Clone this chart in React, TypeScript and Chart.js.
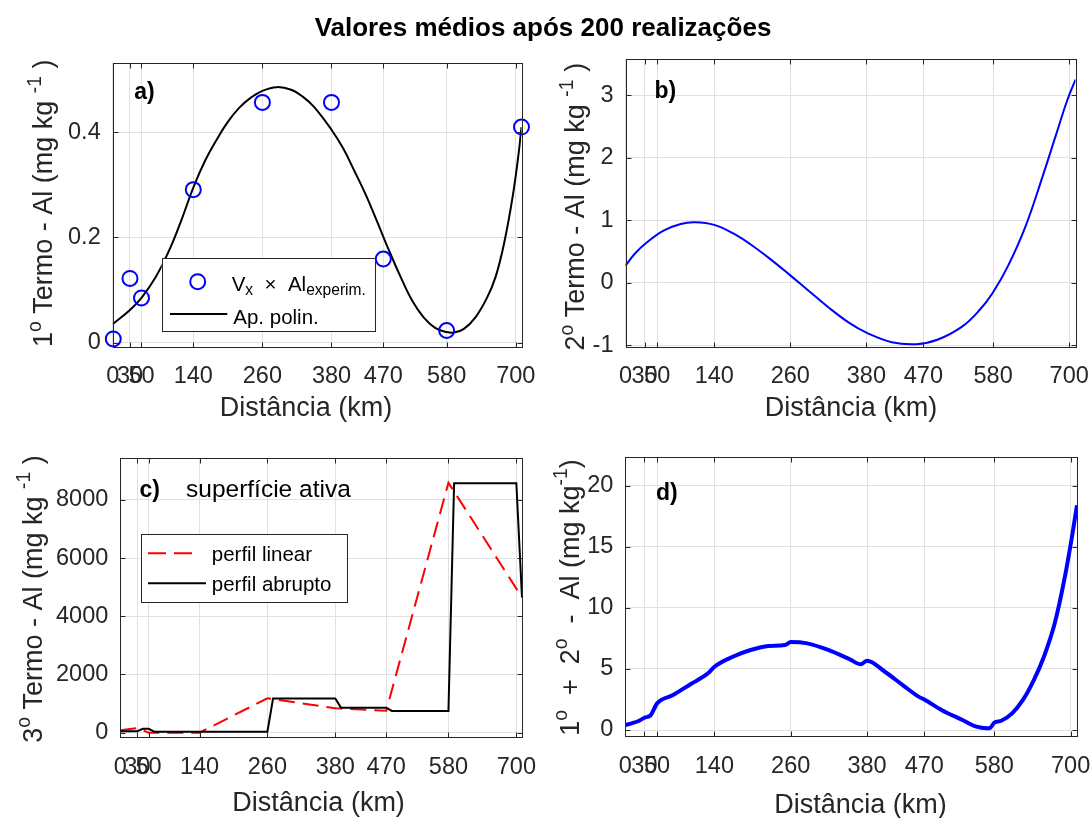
import React, { useEffect, useRef } from 'react';
import { Chart, registerables } from 'chart.js';

Chart.register(...registerables);

const FONT = "'Liberation Sans', Arial, Helvetica, sans-serif";
const INK = '#262626';
const GRID = '#e1e1e1';
const TICK_LEN = 5;

// ---------- shared x axis ----------
const xTickValues = [0, 30, 50, 140, 260, 380, 470, 580, 700];
const xMin = 0;
const xMax = 710;

// ---------- a) experimental values and polynomial fit ----------
const expDist = [1, 30, 50, 140, 260, 380, 470, 580, 710];
const expAl = [0.007, 0.122, 0.085, 0.291, 0.457, 0.457, 0.159, 0.023, 0.41];
const polDist = [0, 30, 50, 75, 100, 120, 140, 160, 180, 200, 220, 240, 260, 285, 310, 330, 350, 380, 400, 420, 440, 460, 480, 500, 520, 540, 560, 580, 593, 610, 630, 650, 665, 680, 695, 705, 710];
const polAl = [0.035, 0.062, 0.085, 0.125, 0.18, 0.235, 0.295, 0.345, 0.385, 0.42, 0.447, 0.466, 0.479, 0.486, 0.481, 0.468, 0.448, 0.405, 0.37, 0.326, 0.28, 0.228, 0.175, 0.125, 0.08, 0.048, 0.028, 0.02, 0.019, 0.026, 0.048, 0.085, 0.125, 0.19, 0.28, 0.36, 0.41];
const aYTicks = [0, 0.2, 0.4];

// ---------- b) second term ----------
const bDist = [0, 15, 32, 60, 87, 110, 140, 170, 197, 226, 260, 287, 320, 353, 381, 420, 459, 492, 531, 559, 579, 603, 631, 658, 680, 697, 710];
const bVal = [0.277, 0.47, 0.634, 0.836, 0.943, 0.97, 0.927, 0.79, 0.618, 0.4, 0.12, -0.11, -0.39, -0.64, -0.8, -0.948, -0.98, -0.91, -0.7, -0.43, -0.165, 0.26, 0.9, 1.7, 2.39, 2.92, 3.25];
const bYTicks = [-1, 0, 1, 2, 3];

// ---------- c) third term ----------
const linDist = [0, 30, 50, 140, 260, 380, 470, 580, 710];
const linVal = [80, 160, 0, 0, 1180, 840, 750, 8590, 4650];
const abrDist = [0, 30, 40, 50, 60, 260, 270, 380, 390, 470, 480, 580, 590, 700, 710];
const abrVal = [50, 50, 130, 130, 35, 35, 1175, 1175, 860, 860, 745, 745, 8570, 8570, 4650];
const cYTicks = [0, 2000, 4000, 6000, 8000];

// ---------- d) first + second ----------
const dDist = [0, 10, 20, 30, 40, 50, 75, 103, 130, 140, 169, 197, 225, 251, 260, 286, 319, 353, 370, 380, 408, 436, 461, 470, 497, 530, 552, 568, 573, 580, 591, 608, 625, 641, 658, 675, 691, 702, 710];
const dVal = [0.41, 0.55, 0.72, 1.0, 1.22, 2.18, 2.86, 3.77, 4.64, 5.18, 6.0, 6.55, 6.88, 6.96, 7.2, 7.09, 6.55, 5.78, 5.38, 5.67, 4.77, 3.68, 2.73, 2.5, 1.64, 0.82, 0.27, 0.14, 0.16, 0.6, 0.76, 1.36, 2.46, 3.96, 6.0, 8.73, 12.55, 15.8, 18.4];
const dYTicks = [0, 5, 10, 15, 20];

const pts = (xs: number[], ys: number[]) => xs.map((x, i) => ({ x, y: ys[i] }));

type Seg = { t: string; s?: 'sup' | 'sub' };
type Rect = { l: number; t: number; r: number; b: number };
type LegendItem = {
  kind: 'marker' | 'line';
  color: string;
  dash?: number[];
  x1: number;
  x2: number;
  y: number;
  textX: number;
  textY: number;
  segs: Seg[];
};
type PanelSpec = {
  id: string;
  box: { x: number; y: number; w: number; h: number };
  area: Rect;
  xPad: number;
  yMin: number;
  yMax: number;
  yTicks: number[];
  yFmt: (v: number) => string;
  datasets: any[];
  yTitle: Seg[];
  yTitleX: number;
  yTitleY: number;
  xTitleX: number;
  xTitleY: number;
  tag: string;
  tagX: number;
  tagY: number;
  extra?: { t: string; x: number; y: number };
  legend?: { box: Rect; items: LegendItem[] };
};

function segFont(s: Seg, size: number, ratio: number) {
  const sz = s.s ? size * ratio : size;
  return `${sz}px ${FONT}`;
}

function richWidth(ctx: CanvasRenderingContext2D, segs: Seg[], size: number, ratio: number) {
  let w = 0;
  for (const s of segs) {
    ctx.font = segFont(s, size, ratio);
    w += ctx.measureText(s.t).width;
  }
  return w;
}

function drawRich(
  ctx: CanvasRenderingContext2D,
  segs: Seg[],
  x: number,
  y: number,
  size: number,
  align: 'left' | 'center',
  ratio = 0.72
) {
  const total = richWidth(ctx, segs, size, ratio);
  let cx = align === 'center' ? x - total / 2 : x;
  ctx.textAlign = 'left';
  ctx.textBaseline = 'alphabetic';
  for (const s of segs) {
    ctx.font = segFont(s, size, ratio);
    const dy = s.s === 'sup' ? -size * 0.42 : s.s === 'sub' ? size * 0.22 : 0;
    ctx.fillText(s.t, cx, y + dy);
    cx += ctx.measureText(s.t).width;
  }
}

function makeDecor(spec: PanelSpec) {
  return {
    id: 'decor_' + spec.id,
    afterDraw(chart: any) {
      const ctx: CanvasRenderingContext2D = chart.ctx;
      const ox = spec.box.x;
      const oy = spec.box.y;
      const { left, right, top, bottom } = chart.chartArea;
      const xs = chart.scales.x;
      const ys = chart.scales.y;
      ctx.save();
      ctx.fillStyle = INK;
      ctx.strokeStyle = INK;
      ctx.lineWidth = 1;
      ctx.setLineDash([]);
      // box
      const L = Math.round(left) + 0.5;
      const R = Math.round(right) + 0.5;
      const T = Math.round(top) + 0.5;
      const B = Math.round(bottom) + 0.5;
      ctx.strokeRect(L, T, R - L, B - T);
      // inward tick marks on all four sides
      ctx.beginPath();
      for (const v of xTickValues) {
        const px = Math.round(xs.getPixelForValue(v)) + 0.5;
        ctx.moveTo(px, B);
        ctx.lineTo(px, B - TICK_LEN);
        ctx.moveTo(px, T);
        ctx.lineTo(px, T + TICK_LEN);
      }
      for (const v of spec.yTicks) {
        const py = Math.round(ys.getPixelForValue(v)) + 0.5;
        ctx.moveTo(L, py);
        ctx.lineTo(L + TICK_LEN, py);
        ctx.moveTo(R, py);
        ctx.lineTo(R - TICK_LEN, py);
      }
      ctx.stroke();

      // legend
      if (spec.legend) {
        const lb = spec.legend.box;
        ctx.fillStyle = '#ffffff';
        ctx.fillRect(lb.l - ox, lb.t - oy, lb.r - lb.l, lb.b - lb.t);
        ctx.strokeStyle = INK;
        ctx.lineWidth = 1;
        ctx.strokeRect(Math.round(lb.l - ox) + 0.5, Math.round(lb.t - oy) + 0.5, Math.round(lb.r - lb.l), Math.round(lb.b - lb.t));
        for (const it of spec.legend.items) {
          ctx.save();
          ctx.strokeStyle = it.color;
          ctx.lineWidth = 2;
          if (it.kind === 'marker') {
            ctx.beginPath();
            ctx.arc(it.x1 - ox, it.y - oy, 7.5, 0, Math.PI * 2);
            ctx.stroke();
          } else {
            ctx.setLineDash(it.dash || []);
            ctx.beginPath();
            ctx.moveTo(it.x1 - ox, it.y - oy);
            ctx.lineTo(it.x2 - ox, it.y - oy);
            ctx.stroke();
          }
          ctx.restore();
          ctx.fillStyle = '#000000';
          drawRich(ctx, it.segs, it.textX - ox, it.textY - oy, 20.5, 'left', 0.76);
        }
      }

      // panel tag
      ctx.fillStyle = '#000000';
      ctx.font = `bold 23px ${FONT}`;
      ctx.textAlign = 'left';
      ctx.textBaseline = 'alphabetic';
      ctx.fillText(spec.tag, spec.tagX - ox, spec.tagY - oy);
      if (spec.extra) {
        ctx.font = `24.5px ${FONT}`;
        ctx.fillText(spec.extra.t, spec.extra.x - ox, spec.extra.y - oy);
      }

      // axis titles
      ctx.fillStyle = INK;
      drawRich(ctx, [{ t: 'Distância (km)' }], spec.xTitleX - ox, spec.xTitleY - oy, 27, 'center');
      ctx.save();
      ctx.translate(spec.yTitleX - ox, spec.yTitleY - oy);
      ctx.rotate(-Math.PI / 2);
      drawRich(ctx, spec.yTitle, 0, 0, 27, 'center');
      ctx.restore();

      ctx.restore();
    },
  };
}

const zeroPadding = (s: any) => {
  s.paddingLeft = 0;
  s.paddingRight = 0;
  s.paddingTop = 0;
  s.paddingBottom = 0;
};

function buildConfig(spec: PanelSpec): any {
  const areaL = spec.area.l - spec.box.x;
  const areaR = spec.area.r - spec.box.x;
  const areaT = spec.area.t - spec.box.y;
  const areaB = spec.area.b - spec.box.y;
  const tickFont = { family: FONT, size: 23.5 };
  return {
    type: 'scatter',
    data: { datasets: spec.datasets },
    options: {
      responsive: false,
      maintainAspectRatio: false,
      animation: false,
      events: [],
      layout: { padding: { left: 0, top: areaT, right: spec.box.w - areaR, bottom: 0 } },
      plugins: {
        legend: { display: false },
        tooltip: { enabled: false },
        title: { display: false },
      },
      scales: {
        x: {
          type: 'linear',
          position: 'bottom',
          min: xMin,
          max: xMax,
          afterBuildTicks: (s: any) => {
            s.ticks = xTickValues.map((v) => ({ value: v }));
          },
          afterFit: (s: any) => {
            s.height = spec.box.h - areaB;
            zeroPadding(s);
          },
          ticks: {
            autoSkip: false,
            maxRotation: 0,
            minRotation: 0,
            padding: spec.xPad,
            color: INK,
            font: tickFont,
            callback: (v: number) => String(v),
          },
          grid: { color: GRID, lineWidth: 1, drawTicks: false },
          border: { display: false },
        },
        y: {
          type: 'linear',
          position: 'left',
          min: spec.yMin,
          max: spec.yMax,
          afterBuildTicks: (s: any) => {
            s.ticks = spec.yTicks.map((v) => ({ value: v }));
          },
          afterFit: (s: any) => {
            s.width = areaL;
            zeroPadding(s);
          },
          ticks: {
            autoSkip: false,
            padding: 12,
            color: INK,
            font: tickFont,
            callback: (v: number) => spec.yFmt(v),
          },
          grid: { color: GRID, lineWidth: 1, drawTicks: false },
          border: { display: false },
        },
      },
    },
    plugins: [makeDecor(spec)],
  };
}

const lineDs = (data: any[], color: string, width: number, extra: any = {}) => ({
  data,
  showLine: true,
  borderColor: color,
  backgroundColor: color,
  borderWidth: width,
  pointRadius: 0,
  fill: false,
  ...extra,
});

const termTitle = (n: string): Seg[] => [
  { t: n },
  { t: 'o', s: 'sup' },
  { t: ' Termo - Al (mg kg ' },
  { t: '-1', s: 'sup' },
  { t: ' )' },
];

const specs: PanelSpec[] = [
  {
    id: 'a',
    box: { x: 0, y: 0, w: 546, h: 430 },
    area: { l: 112.7, t: 62.7, r: 521.5, b: 347.3 },
    xPad: 15,
    yMin: -0.009,
    yMax: 0.5325,
    yTicks: aYTicks,
    yFmt: (v) => (v === 0 ? '0' : v.toFixed(1)),
    datasets: [
      {
        data: pts(expDist, expAl),
        showLine: false,
        pointStyle: 'circle',
        pointRadius: 7.5,
        pointBorderWidth: 2,
        pointBorderColor: '#0000ff',
        pointBackgroundColor: 'rgba(0,0,0,0)',
        clip: false,
      },
      lineDs(pts(polDist, polAl), '#000000', 2, { tension: 0.4 }),
    ],
    yTitle: termTitle('1'),
    yTitleX: 52,
    yTitleY: 203.3,
    xTitleX: 306,
    xTitleY: 416,
    tag: 'a)',
    tagX: 134.3,
    tagY: 98.5,
    legend: {
      box: { l: 161.7, t: 258.3, r: 375, b: 331.7 },
      items: [
        {
          kind: 'marker',
          color: '#0000ff',
          x1: 197.7,
          x2: 197.7,
          y: 281.7,
          textX: 231.7,
          textY: 290.5,
          segs: [{ t: 'V' }, { t: 'x', s: 'sub' }, { t: '  \u00D7  ' }, { t: 'Al' }, { t: 'experim.', s: 'sub' }],
        },
        {
          kind: 'line',
          color: '#000000',
          x1: 170,
          x2: 227.3,
          y: 314,
          textX: 233.3,
          textY: 324,
          segs: [{ t: 'Ap. polin.' }],
        },
      ],
    },
  },
  {
    id: 'b',
    box: { x: 546, y: 0, w: 546, h: 430 },
    area: { l: 625.5, t: 59, r: 1075.5, b: 347.3 },
    xPad: 15,
    yMin: -1.03,
    yMax: 3.58,
    yTicks: bYTicks,
    yFmt: (v) => String(v),
    datasets: [lineDs(pts(bDist, bVal), '#0000ff', 2, { tension: 0.4 })],
    yTitle: termTitle('2'),
    yTitleX: 584,
    yTitleY: 206.7,
    xTitleX: 851,
    xTitleY: 416,
    tag: 'b)',
    tagX: 654.4,
    tagY: 98,
  },
  {
    id: 'c',
    box: { x: 0, y: 430, w: 546, h: 388 },
    area: { l: 120.3, t: 458.3, r: 522, b: 737.3 },
    xPad: 16.5,
    yMin: -160,
    yMax: 9430,
    yTicks: cYTicks,
    yFmt: (v) => String(v),
    datasets: [
      lineDs(pts(abrDist, abrVal), '#000000', 2),
      lineDs(pts(linDist, linVal), '#ff0000', 2, { borderDash: [16, 8] }),
    ],
    yTitle: termTitle('3'),
    yTitleX: 41.5,
    yTitleY: 599,
    xTitleX: 318.6,
    xTitleY: 811,
    tag: 'c)',
    tagX: 139.5,
    tagY: 497,
    extra: { t: 'superfície ativa', x: 186, y: 497 },
    legend: {
      box: { l: 140.5, t: 534.3, r: 346, b: 602.3 },
      items: [
        {
          kind: 'line',
          color: '#ff0000',
          dash: [18, 8],
          x1: 148,
          x2: 199.7,
          y: 553.3,
          textX: 211.8,
          textY: 561,
          segs: [{ t: 'perfil linear' }],
        },
        {
          kind: 'line',
          color: '#000000',
          x1: 148,
          x2: 206,
          y: 583.3,
          textX: 211.8,
          textY: 590.7,
          segs: [{ t: 'perfil abrupto' }],
        },
      ],
    },
  },
  {
    id: 'd',
    box: { x: 546, y: 430, w: 546, h: 388 },
    area: { l: 625.3, t: 456.7, r: 1077, b: 736 },
    xPad: 16.5,
    yMin: -0.49,
    yMax: 22.37,
    yTicks: dYTicks,
    yFmt: (v) => String(v),
    datasets: [lineDs(pts(dDist, dVal), '#0000ff', 4, { cubicInterpolationMode: 'monotone' })],
    yTitle: [
      { t: '1' },
      { t: 'o', s: 'sup' },
      { t: '  +  2' },
      { t: 'o', s: 'sup' },
      { t: '  -  Al (mg kg' },
      { t: '-1', s: 'sup' },
      { t: ')' },
    ],
    yTitleX: 578.5,
    yTitleY: 597.5,
    xTitleX: 860.5,
    xTitleY: 812.5,
    tag: 'd)',
    tagX: 656,
    tagY: 500,
  },
];

function Panel({ spec }: { spec: PanelSpec }) {
  const ref = useRef<HTMLCanvasElement>(null);
  useEffect(() => {
    const canvas = ref.current;
    if (!canvas) return;
    const chart = new Chart(canvas, buildConfig(spec));
    return () => chart.destroy();
  }, [spec]);
  return (
    <canvas
      ref={ref}
      width={spec.box.w}
      height={spec.box.h}
      style={{ position: 'absolute', left: spec.box.x, top: spec.box.y, width: spec.box.w, height: spec.box.h }}
    />
  );
}

export default function App() {
  return (
    <div style={{ position: 'absolute', left: 0, top: 0, width: 1092, height: 818, background: '#ffffff', overflow: 'hidden' }}>
      {specs.map((s) => (
        <Panel key={s.id} spec={s} />
      ))}
      <div
        style={{
          position: 'absolute',
          left: 0,
          top: 14,
          width: 1086,
          textAlign: 'center',
          fontFamily: FONT,
          fontWeight: 'bold',
          fontSize: '26px',
          lineHeight: '26px',
          color: '#000000',
          whiteSpace: 'nowrap',
        }}
      >
        Valores médios após 200 realizações
      </div>
    </div>
  );
}
